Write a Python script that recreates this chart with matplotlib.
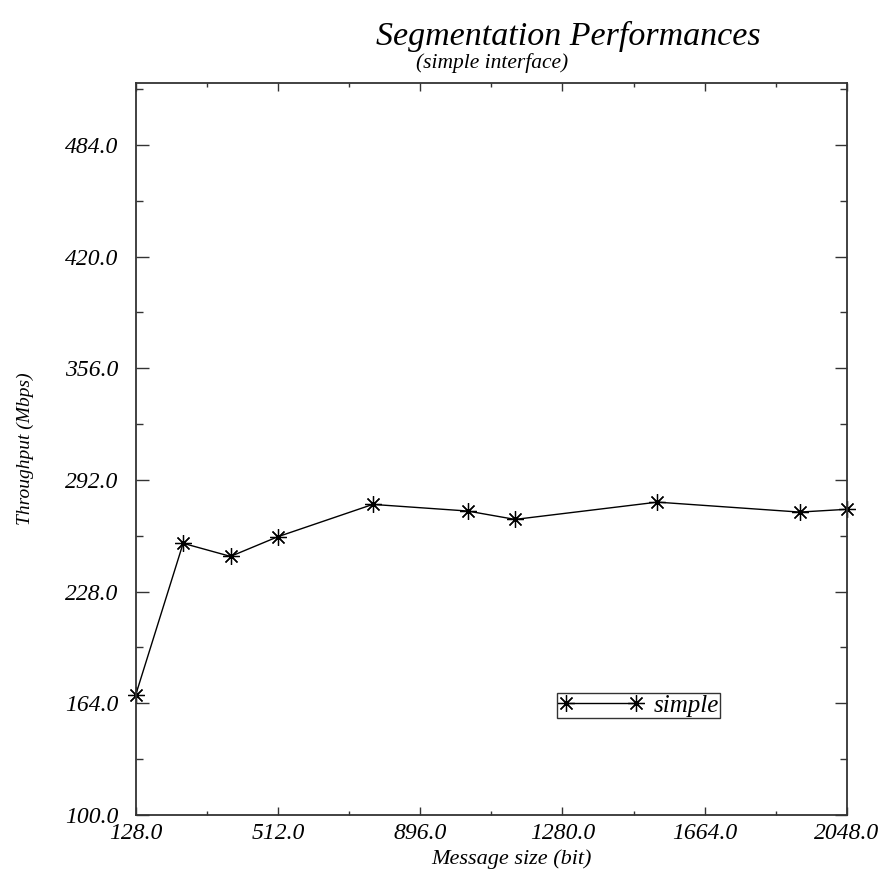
import matplotlib.pyplot as plt
from matplotlib.ticker import MultipleLocator

plt.rcParams['font.family'] = ['Liberation Serif', 'DejaVu Serif']
plt.rcParams['font.style'] = 'italic'

# message size (bit) vs throughput (Mbps)
msg_size = [128, 256, 384, 512, 768, 1024, 1152, 1536, 1920, 2048]
throughput = [168.8, 255.7, 248.2, 259.5, 278.0, 274.2, 269.4, 279.3, 273.6, 275.2]
xticks = [128, 512, 896, 1280, 1664, 2048]
yticks = [100, 164, 228, 292, 356, 420, 484]

fig = plt.figure(figsize=(8.86, 8.73), dpi=100)
ax = fig.add_axes([135.7 / 886, 1 - 815 / 873, (847 - 135.7) / 886, (815 - 83) / 873])

ax.plot(msg_size, throughput, color='black', lw=1.0, marker=(8, 2, 0),
        markersize=12, markeredgewidth=0.9, label='simple', clip_on=False)

ax.set_xlim(128, 2048)
ax.set_ylim(100, 519.5)
ax.set_xticks(xticks)
ax.set_yticks(yticks)
ax.xaxis.set_minor_locator(MultipleLocator(192, offset=128))
ax.yaxis.set_minor_locator(MultipleLocator(32, offset=4))
ax.set_xticklabels([f'{v:.1f}' for v in xticks])
ax.set_yticklabels([f'{v:.1f}' for v in yticks])

ax.tick_params(axis='both', which='both', direction='in', top=True, right=True,
               labelsize=17, width=1.0, color='#333333')
ax.tick_params(axis='x', which='major', length=6, pad=6)
ax.tick_params(axis='x', which='minor', length=3)
ax.tick_params(axis='y', which='major', length=9, pad=12.5)
ax.tick_params(axis='y', which='minor', length=5)
for s in ax.spines.values():
    s.set_linewidth(1.3)
    s.set_color('#333333')

ax.set_xlabel('Message size (bit)', fontsize=16)
ax.xaxis.set_label_coords((511 - 135.7) / 711.3, -(859 - 815) / 732, transform=ax.transAxes)
ax.xaxis.label.set_va('center')
ax.set_ylabel('Throughput (Mbps)', fontsize=14)
ax.yaxis.set_label_coords(-(135.7 - 25) / 711.3, 0.5, transform=ax.transAxes)
ax.yaxis.label.set_va('center')

fig.text(568 / 886, 1 - 36 / 873, 'Segmentation Performances', fontsize=24.5,
         ha='center', va='center')
fig.text(492 / 886, 1 - 63 / 873, '(simple interface)', fontsize=15.5,
         ha='center', va='center')

leg = ax.legend(loc='lower left', bbox_to_anchor=((557 - 135.7) / 711.3, (815 - 718) / 732),
                numpoints=2, handlelength=3.4, fontsize=18, fancybox=False,
                frameon=True, edgecolor='black', borderpad=0.05, handletextpad=0.4,
                borderaxespad=0)
leg.get_frame().set_linewidth(1.0)

fig.savefig('out.png', dpi=100)
